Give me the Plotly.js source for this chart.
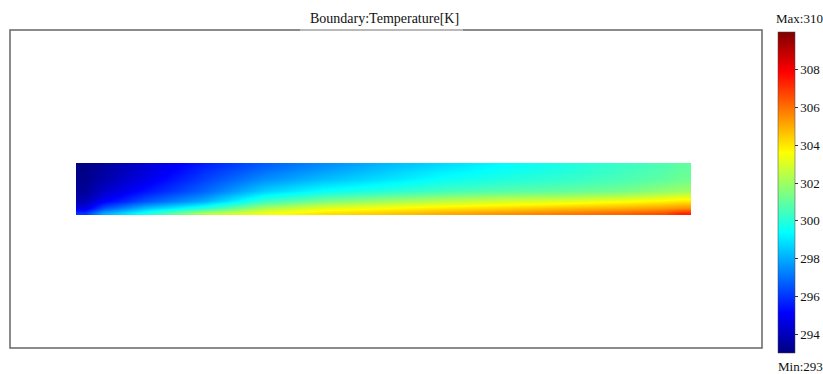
<!DOCTYPE html>
<html>
<head>
<meta charset="utf-8">
<script src="https://cdn.plot.ly/plotly-3.0.1.min.js"></script>
<style>html,body{margin:0;padding:0;background:#fff;}#chart{width:823px;height:374px;}</style>
</head>
<body>
<div id="chart"></div>
<script>
// Positions along the strip (fraction of length) and across it (fraction of height, 0 = bottom edge)
const xPos = [0, 0.03, 0.1, 0.2, 0.3, 0.4, 0.5, 0.6, 0.7, 0.8, 0.9, 0.97, 1.0];
const yPos = [0, 0.1, 0.25, 0.45, 0.7, 0.92, 1.0];

// Temperature [K], one row per yPos (bottom to top)
const tempY000 = [296.0, 297.9, 299.7, 302.3, 303.4, 304.1, 304.5, 305.0, 305.4, 305.8, 306.2, 306.6, 307.3];
const tempY010 = [294.7, 296.4, 298.3, 300.0, 302.2, 303.2, 303.6, 304.0, 304.3, 304.7, 305.0, 305.3, 305.5];
const tempY025 = [293.9, 295.0, 296.5, 298.0, 300.3, 301.4, 302.0, 302.5, 302.9, 303.1, 303.5, 303.8, 304.0];
const tempY045 = [293.4, 294.2, 295.4, 296.8, 298.6, 299.5, 300.0, 300.5, 300.8, 301.0, 301.3, 301.8, 302.0];
const tempY070 = [293.2, 293.7, 294.75, 296.2, 297.5, 298.3, 298.9, 299.5, 299.9, 300.2, 300.6, 300.95, 301.2];
const tempY092 = [293.1, 293.5, 294.45, 295.8, 296.9, 297.7, 298.4, 299.0, 299.5, 299.9, 300.4, 300.75, 301.0];
const tempY100 = [293.05, 293.45, 294.4, 295.6, 296.7, 297.5, 298.2, 298.8, 299.4, 299.85, 300.35, 300.7, 301.0];

const colorTicks = [294, 296, 298, 300, 302, 304, 306, 308];
const tMin = 293, tMax = 310;
const titleText = 'Boundary:Temperature[K]';

const jet = [
  [0, 'rgb(0,0,128)'],
  [0.125, 'rgb(0,0,255)'],
  [0.375, 'rgb(0,255,255)'],
  [0.625, 'rgb(255,255,0)'],
  [0.875, 'rgb(255,0,0)'],
  [1, 'rgb(128,0,0)']
];

const serif = 'Liberation Serif, Times New Roman, serif';

const trace = {
  type: 'heatmap',
  x: xPos,
  y: yPos,
  z: [tempY000, tempY010, tempY025, tempY045, tempY070, tempY092, tempY100],
  zmin: tMin, zmax: tMax,
  zsmooth: 'best',
  colorscale: jet,
  hoverinfo: 'skip',
  colorbar: {
    x: (778 - 10) / 752, xanchor: 'left', xpad: 0,
    y: 0.9937, yanchor: 'top', ypad: 0,
    lenmode: 'pixels', len: 321,
    thicknessmode: 'pixels', thickness: 17,
    tickvals: colorTicks,
    ticks: 'outside', ticklen: 3, tickcolor: '#333', tickwidth: 1,
    tickfont: {family: serif, size: 13, color: '#111'},
    outlinewidth: 0.5, outlinecolor: '#444'
  }
};

// strip: 76..691 px across, 163..215 px down; frame 10..762, 30..348
const xr0 = -0.015, xr1 = 1.015, xpx = 615 / (xr1 - xr0);
const yr0 = -0.05, yr1 = 1.04, ypx = 52 / (yr1 - yr0);

const layout = {
  width: 823, height: 374,
  margin: {l: 10, r: 61, t: 30, b: 26, autoexpand: false},
  paper_bgcolor: '#fff', plot_bgcolor: '#fff',
  showlegend: false,
  xaxis: {range: [xr0 - 66 / xpx, xr1 + 71 / xpx], visible: false, fixedrange: true},
  yaxis: {range: [yr0 - 133 / ypx, yr1 + 133 / ypx], visible: false, fixedrange: true},
  shapes: [
    {type: 'rect', xref: 'paper', yref: 'paper', x0: 0, x1: 1, y0: 0, y1: 1,
     line: {color: '#666666', width: 1.5}, fillcolor: 'rgba(0,0,0,0)'},
    {type: 'line', xref: 'paper', yref: 'paper', x0: (300 - 10) / 752, x1: (463 - 10) / 752, y0: 1, y1: 1,
     line: {color: '#c8c8c8', width: 1.5}}
  ],
  annotations: [
    {text: titleText, xref: 'paper', yref: 'paper', x: (384 - 10) / 752, y: 1 + 12 / 318,
     xanchor: 'center', yanchor: 'middle', showarrow: false,
     font: {family: serif, size: 14, color: '#111'}},
    {text: 'Max:' + tMax, xref: 'paper', yref: 'paper', x: (823 - 10) / 752, y: 1 + 12 / 318,
     xanchor: 'right', yanchor: 'middle', showarrow: false, xshift: 2,
     font: {family: serif, size: 13, color: '#111'}},
    {text: 'Min:' + tMin, xref: 'paper', yref: 'paper', x: (823 - 10) / 752, y: -18 / 318,
     xanchor: 'right', yanchor: 'middle', showarrow: false, xshift: 2,
     font: {family: serif, size: 13, color: '#111'}}
  ]
};

Plotly.newPlot('chart', [trace], layout, {displayModeBar: false, staticPlot: true});
</script>
</body>
</html>
